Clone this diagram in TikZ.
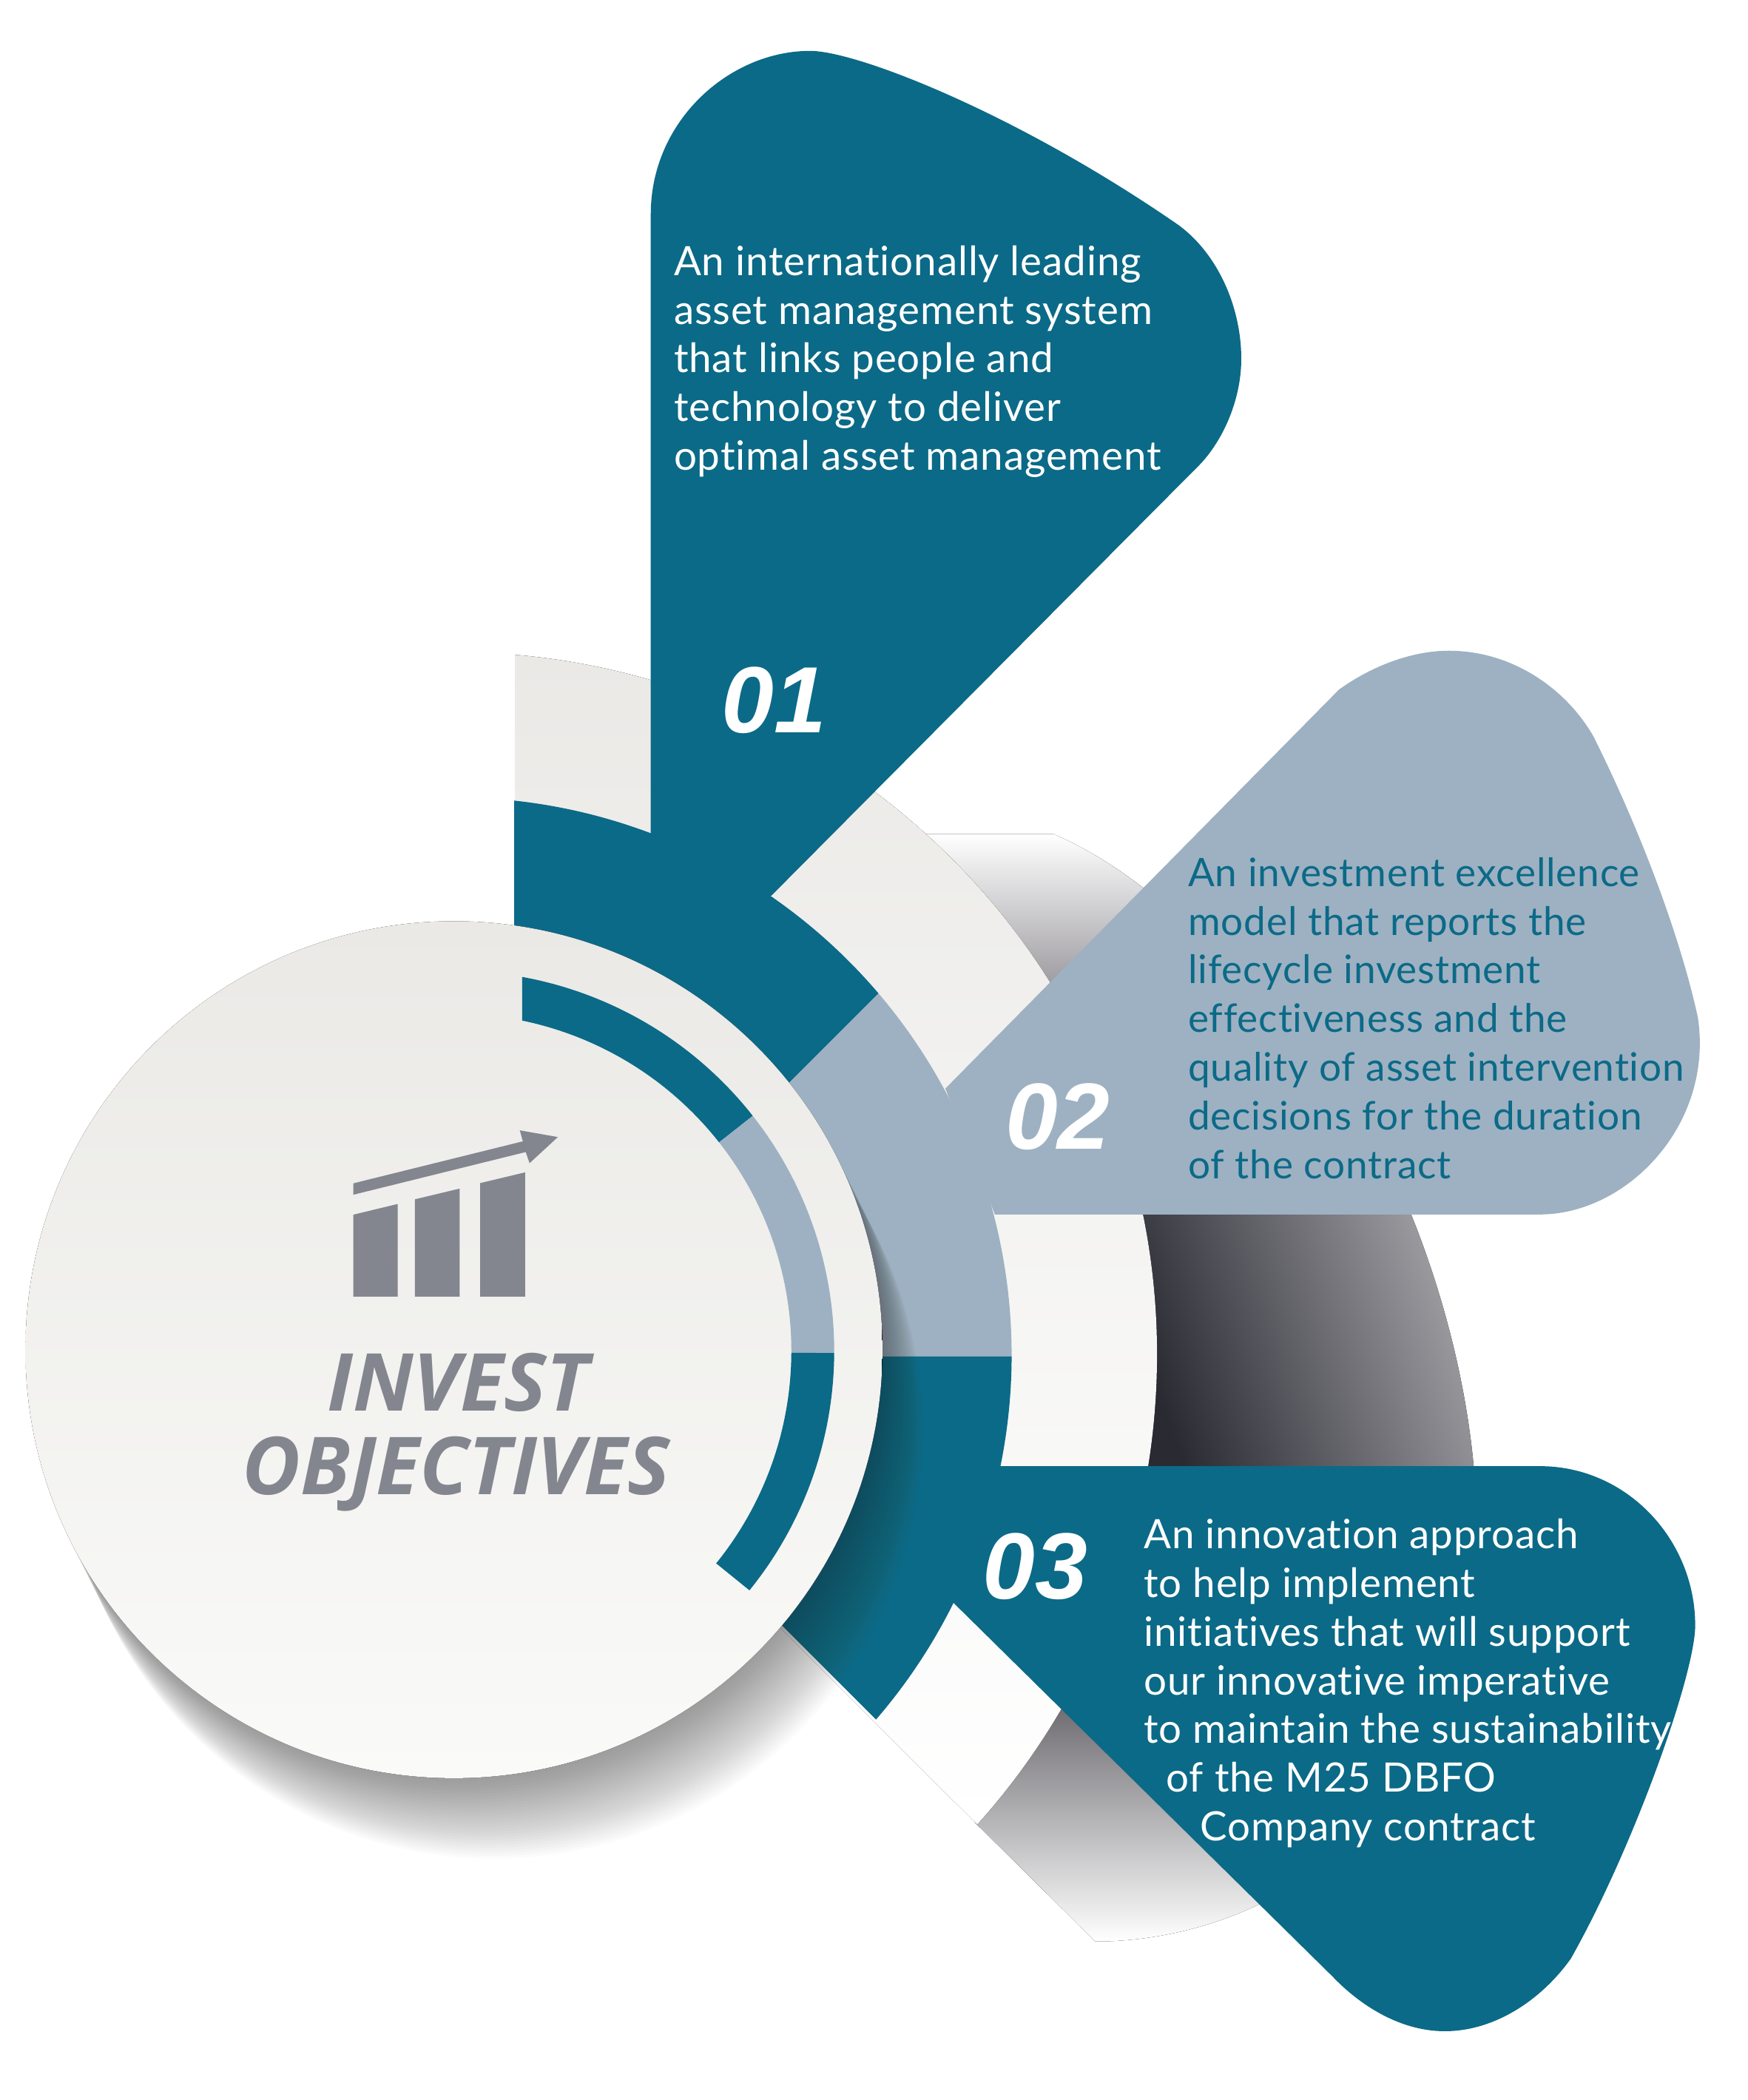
\documentclass[tikz,border=0pt]{standalone}
\usepackage{fontspec}
\setmainfont{Lato}
\newfontfamily\headfont{Open Sans}
\newfontfamily\numberfont{Liberation Sans}
\newfontfamily\bodyfont[LetterSpace=1.6,Ligatures=NoCommon]{Lato}
\definecolor{tealpetal}{HTML}{0B6A87}
\definecolor{bluepetal}{HTML}{9DB1C2}
\definecolor{iconmark}{HTML}{83868E}
\definecolor{shadowtop}{HTML}{9E9CA0}
\definecolor{shadowdark}{HTML}{2A2A33}
\definecolor{shadowlight}{HTML}{A09FA4}
\definecolor{shadowlow}{HTML}{6B696E}
\definecolor{paperdark}{HTML}{EAE9E6}
\definecolor{paperlight}{HTML}{FAFAF8}
\tikzset{
	bodytext/.style={anchor=north west,align=left,inner sep=0pt,font=\bodyfont\fontsize{17.2}{20.7}\selectfont},
	numbertext/.style={text=white,inner sep=0pt,font=\numberfont\fontsize{40}{40}\selectfont\bfseries\itshape},
	headtext/.style={text=iconmark,inner sep=0pt,anchor=base,font=\headfont\fontsize{34}{34}\selectfont\bfseries\itshape},
}
\newcommand{\ringpart}[5]{\fill[#1] (#4:#3) arc[start angle=#4,end angle=#5,radius=#3] -- (#5:#2) arc[start angle=#5,end angle=#4,radius=#2] -- cycle;}
\begin{document}
\begin{tikzpicture}[x=0.02cm,y=-0.02cm]
	\useasboundingbox (0,0) rectangle (1305,1568.4);
	\fill[white] (0,0) rectangle (1305,1568.4);

	\fill[top color=white,bottom color=shadowtop] (690,623) -- (787,623) .. controls (812,634) and (835,648) .. (860,668) -- (860,735) -- (690,735) -- cycle;
	\fill[shading=axis,left color=shadowdark,right color=shadowlight,shading angle=110] (850,900) -- (1051,900) .. controls (1080,970) and (1096,1040) .. (1101,1100) -- (850,1100) -- cycle;
	\fill[top color=shadowlow,bottom color=white] (791,1270) -- (728,1361) -- (818,1450) .. controls (860,1450) and (905,1440) .. (945,1420) -- (950,1270) -- cycle;

	\fill[top color=paperdark,bottom color=white] (384.8,489) arc[start angle=-85,end angle=41.9,radius=525] -- (500,1133) -- (385,800) -- cycle;

	\begin{scope}
		\clip (384,500) -- (800,500) -- (720,678) -- (560,838) -- (384,838) -- cycle;
		\begin{scope}[shift={(339,1012)}]
			\ringpart{tealpetal}{300}{416.5}{-90}{-20}
		\end{scope}
	\end{scope}
	\begin{scope}
		\clip (560,838) -- (720,678) -- (800,1013) -- (560,1013) -- cycle;
		\begin{scope}[shift={(339,1012)}]
			\ringpart{bluepetal}{300}{416.5}{-60}{1}
		\end{scope}
	\end{scope}
	\begin{scope}
		\clip (540,1170) -- (700,1330) -- (800,1013) -- (540,1013) -- cycle;
		\begin{scope}[shift={(339,1012)}]
			\ringpart{tealpetal}{300}{416.5}{0}{60}
		\end{scope}
	\end{scope}

	\foreach \s in {1,...,30}
		\fill[black!75,opacity=.018] (339+\s*1,1008+\s*2) circle[radius=320];

	\fill[top color=paperdark,bottom color=paperlight] (339,1008) circle[radius=320];

	\begin{scope}
		\clip (390,700) rectangle (700,1300);
		\begin{scope}[shift={(339,1009)}]
			\ringpart{tealpetal}{252}{284}{-85}{-38.2}
			\ringpart{bluepetal}{252}{284}{-38.2}{.3}
			\ringpart{tealpetal}{252}{284}{.3}{39}
		\end{scope}
	\end{scope}

	\fill[tealpetal] (486,160) .. controls (486,90) and (545,38) .. (605,38) .. controls (640,38) and (760,85) .. (880,168) .. controls (910,190) and (927,230) .. (927,268) .. controls (927,300) and (912,332) .. (893,350) -- (576,669) -- (486,669) -- cycle;
	\fill[bluepetal] (706,813) -- (1000,515) .. controls (1025,497) and (1055,486) .. (1082,486) .. controls (1130,486) and (1170,515) .. (1190,550) .. controls (1225,620) and (1255,700) .. (1268,760) .. controls (1280,840) and (1215,907) .. (1150,907) -- (743,907) -- cycle;
	\fill[tealpetal] (747,1095) -- (1150,1095) .. controls (1215,1095) and (1266,1150) .. (1266,1214) .. controls (1266,1250) and (1220,1380) .. (1173,1463) .. controls (1150,1495) and (1115,1517) .. (1079,1517) .. controls (1045,1517) and (1015,1497) .. (995,1476) -- (711,1196) -- cycle;

	\fill[iconmark] (263.8,968.3) -- (263.8,907.2) -- (297,899.2) -- (297,968.3) -- cycle;
	\fill[iconmark] (309.9,968.3) -- (309.9,895.7) -- (343.3,887.7) -- (343.3,968.3) -- cycle;
	\fill[iconmark] (358.6,968.3) -- (358.6,883.6) -- (392.1,875.6) -- (392.1,968.3) -- cycle;
	\fill[iconmark] (263.8,883.8) -- (390.5,852.4) -- (388.2,844.2) -- (416.6,849.2) -- (395.5,868.7) -- (392.6,860.4) -- (263.8,892.3) -- cycle;

	\node (invest) at (342,1053.8) [headtext] {INVEST};
	\node (objectives) at (340.5,1116.3) [headtext] {OBJECTIVES};

	\node (num1) at (578,523) [numbertext] {01};
	\node (num2) at (790,834) [numbertext] {02};
	\node (num3) at (773,1170) [numbertext] {03};

	\node (text1) at (503,183) [bodytext,text=white] {An internationally leading\\asset management system\\that links people and\\technology to deliver\\optimal asset management};
	\node (text2) at (887,640) [bodytext,text=tealpetal,font=\bodyfont\fontsize{16.7}{20.7}\selectfont] {An investment excellence\\model that reports the\\lifecycle investment\\effectiveness and the\\quality of asset intervention\\decisions for the duration\\of the contract};
	\node (text3) at (854,1134) [bodytext,text=white] {An innovation approach\\to help implement\\initiatives that will support\\our innovative imperative\\to maintain the sustainability\\\hspace*{9.5pt}of the M25 DBFO\\\hspace*{24pt}Company contract};
\end{tikzpicture}
\end{document}
